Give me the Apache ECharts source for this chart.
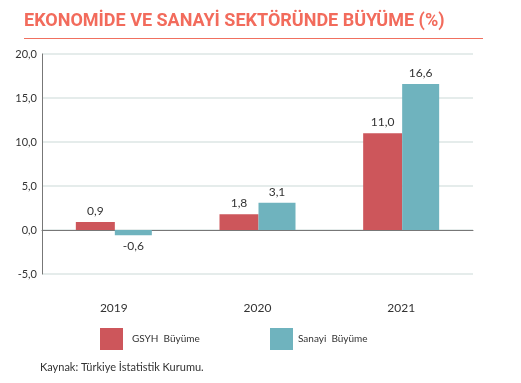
<!DOCTYPE html>
<html><head><meta charset="utf-8">
<script src="https://cdn.jsdelivr.net/npm/echarts@6/dist/echarts.min.js"></script>
<style>html,body{margin:0;padding:0;background:#fff}#c{width:521px;height:383px}</style>
</head><body><div id="c"></div>
<script>
const years = ['2019', '2020', '2021'];
const gsyh = [0.9, 1.8, 11.0];
const sanayi = [-0.6, 3.1, 16.6];
const yTicks = [-5, 0, 5, 10, 15, 20];
const seriesNames = ['GSYH  Büyüme', 'Sanayi  Büyüme'];
const title = 'EKONOMİDE VE SANAYİ SEKTÖRÜNDE BÜYÜME (%)';
const source = 'Kaynak: Türkiye İstatistik Kurumu.';

const fmt = v => v.toFixed(1).replace('.', ',');
const FONT = 'Lato';
const mk = arr => arr.map(v => ({value: v, label: {position: v < 0 ? 'bottom' : 'top'}}));

const chart = echarts.init(document.getElementById('c'), null, {renderer: 'canvas'});
chart.setOption({
  animation: false,
  textStyle: {fontFamily: FONT},
  title: {text: title, left: 19, top: 7, textStyle: {fontFamily: 'Roboto', fontWeight: 'bold', fontSize: 18, color: '#F26B5C'}},
  graphic: [
    {type: 'line', shape: {x1: 24, y1: 38.5, x2: 483, y2: 38.5}, style: {stroke: '#F07060', lineWidth: 1}},
    {type: 'text', left: 40, top: 362, style: {text: source, font: '11px Lato', fill: '#333'}}
  ],
  legend: [
    {data: [seriesNames[0]], left: 100, top: 328, padding: 0, itemWidth: 23, itemHeight: 22, icon: 'rect', itemGap: 0,
     textStyle: {fontSize: 10, color: '#333', fontFamily: FONT, padding: [0, 0, 0, 4]}},
    {data: [seriesNames[1]], left: 270, top: 328, padding: 0, itemWidth: 23, itemHeight: 22, icon: 'rect', itemGap: 0,
     textStyle: {fontSize: 10, color: '#333', fontFamily: FONT, padding: [0, 0, 0, 0]}}
  ],
  grid: {left: 42, right: 48, top: 54, bottom: 109, containLabel: false},
  xAxis: [
    {type: 'category', data: years, position: 'bottom', axisLine: {show: false, onZero: false}, axisTick: {show: false},
     axisLabel: {margin: 28, fontSize: 12, color: '#333', fontFamily: FONT}},
    {type: 'category', data: years, axisLine: {show: true, onZero: true, lineStyle: {color: '#777', width: 1}},
     axisTick: {show: false}, axisLabel: {show: false}}
  ],
  yAxis: {type: 'value', min: yTicks[0], max: yTicks[yTicks.length - 1], interval: 5,
    axisLine: {show: true, lineStyle: {color: '#777'}}, axisTick: {show: false},
    splitLine: {lineStyle: {color: '#DCE6E5', width: 1.5}},
    axisLabel: {formatter: fmt, fontSize: 11, color: '#333', margin: 5, fontFamily: FONT}},
  series: [
    {name: seriesNames[0], type: 'bar', data: mk(gsyh), barWidth: 39, barGap: '0%', itemStyle: {color: '#CD565B'},
     label: {show: true, formatter: p => fmt(p.value), fontSize: 12, color: '#333', distance: 5, fontFamily: FONT}},
    {name: seriesNames[1], type: 'bar', data: mk(sanayi), barWidth: 37, barGap: '0%', itemStyle: {color: '#6FB3BE'},
     label: {show: true, formatter: p => fmt(p.value), fontSize: 12, color: '#333', distance: 5, fontFamily: FONT}}
  ]
});
</script></body></html>
